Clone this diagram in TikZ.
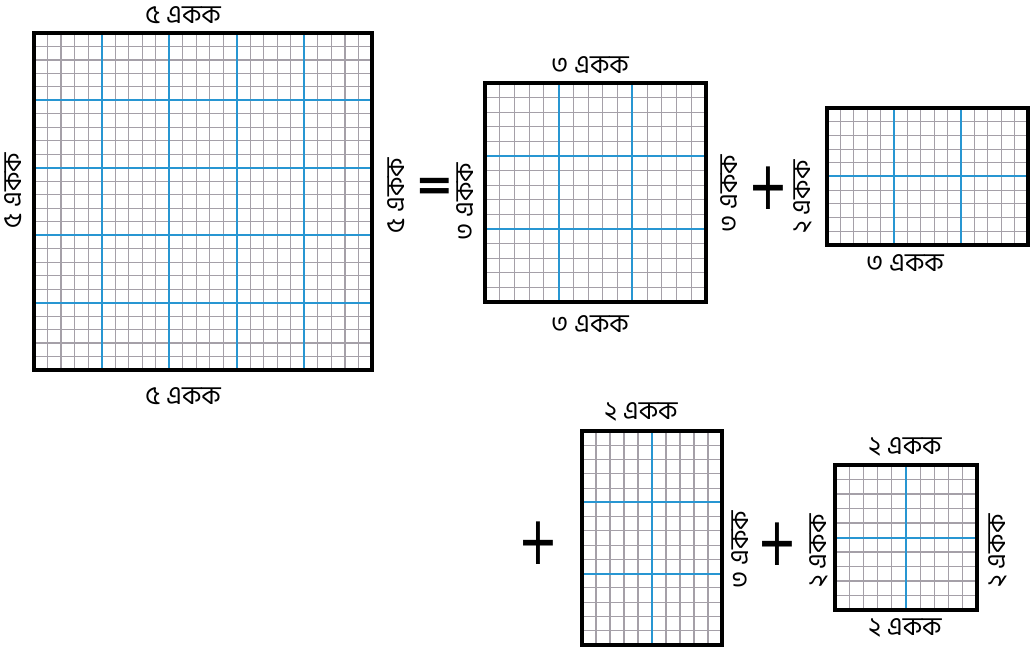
\documentclass[tikz,border=0pt]{standalone}
\usepackage{fontspec}
\newfontfamily\bnfont[Script=Bengali]{Hind Siliguri}
\newfontfamily\signfont{DejaVu Sans}
\usetikzlibrary{positioning}

\definecolor{gridgray}{RGB}{165,160,168}
\definecolor{gridblue}{RGB}{40,150,210}

\tikzset{
  minorline/.style={gridgray, line width=0.55pt},
  majorline/.style={gridblue, line width=1pt},
  frameline/.style={black, line width=2pt},
  unitlabel/.style={font=\bnfont\fontsize{13}{13}\selectfont, inner sep=0pt},
  sidelabel/.style={unitlabel, rotate=90},
  plussign/.style={font=\signfont\fontsize{34}{34}\selectfont, inner sep=0pt, xscale=0.7},
  equalsign/.style={font=\signfont\bfseries\fontsize{23}{23}\selectfont, inner sep=0pt}
}

% squared paper: left, top, right, bottom, units across, units down
\newcommand{\gridbox}[6]{%
  \pgfmathtruncatemacro{\gridnx}{5*#5}
  \pgfmathtruncatemacro{\gridny}{5*#6}
  \foreach \k in {1,...,\gridnx}
    \draw[minorline] ({#1+\k*(#3-#1)/\gridnx},#2) -- ({#1+\k*(#3-#1)/\gridnx},#4);
  \foreach \k in {1,...,\gridny}
    \draw[minorline] (#1,{#2+\k*(#4-#2)/\gridny}) -- (#3,{#2+\k*(#4-#2)/\gridny});
  \foreach \k in {1,...,#5}
    \draw[majorline] ({#1+\k*(#3-#1)/#5},#2) -- ({#1+\k*(#3-#1)/#5},#4);
  \foreach \k in {1,...,#6}
    \draw[majorline] (#1,{#2+\k*(#4-#2)/#6}) -- (#3,{#2+\k*(#4-#2)/#6});
  \draw[frameline] (#1,#2) rectangle (#3,#4);
}

\begin{document}
\begin{tikzpicture}[x=0.5pt, y=-0.5pt]
  \useasboundingbox (0,0) rectangle (1034,652);

  % Big square 5 x 5
  \gridbox{34}{33}{372}{370}{5}{5}
  \node[unitlabel] (fivetop) at (183,15) {৫ একক};
  \node[unitlabel] (fivebot) at (183,396) {৫ একক};
  \node[sidelabel] (fiveleft) at (13,191) {৫ একক};
  \node[sidelabel] (fiveright) at (396,196) {৫ একক};

  % equals
  \node[equalsign] (eq) at (435,189) {=};

  % Square 3 x 3
  \gridbox{485}{83}{706}{302}{3}{3}
  \node[unitlabel] (threetop) at (590,65) {৩ একক};
  \node[unitlabel] (threebot) at (590,324) {৩ একক};
  \node[sidelabel] (threeleft) at (465,202) {৩ একক};
  \node[sidelabel] (threeright) at (729,194) {৩ একক};

  \node[plussign] (plusa) at (768,188) {+};

  % Rectangle 3 x 2
  \gridbox{827}{108}{1028}{245}{3}{2}
  \node[sidelabel] (twoleft) at (803,197) {২ একক};
  \node[unitlabel] (threebotb) at (905,263) {৩ একক};

  % Rectangle 2 x 3
  \node[plussign] (plusb) at (538,543) {+};
  \gridbox{582}{431}{722}{645}{2}{3}
  \node[unitlabel] (twotop) at (641,412) {২ একক};
  \node[sidelabel] (threerightb) at (740,550) {৩ একক};

  \node[plussign] (plusc) at (777,544) {+};

  % Square 2 x 2
  \gridbox{835}{465}{977}{610}{2}{2}
  \node[unitlabel] (twotopb) at (905,447) {২ একক};
  \node[unitlabel] (twobotb) at (905,628) {২ একক};
  \node[sidelabel] (twoleftb) at (819,551) {২ একক};
  \node[sidelabel] (tworightb) at (998,551) {২ একক};
\end{tikzpicture}
\end{document}
